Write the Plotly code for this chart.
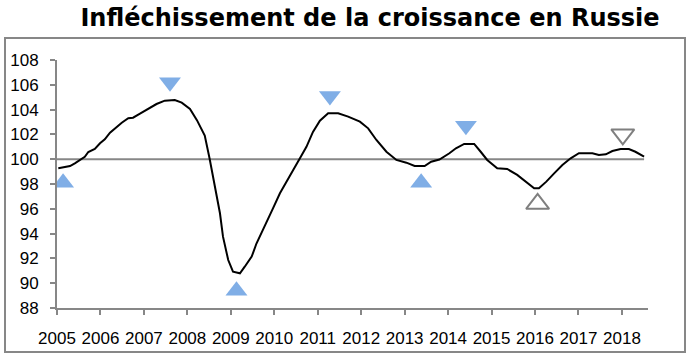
import plotly.graph_objects as go

# --- data ---
years = [2005.03, 2005.18, 2005.30, 2005.41, 2005.53, 2005.64, 2005.72, 2005.87, 2005.99,
         2006.10, 2006.22, 2006.37, 2006.49, 2006.64, 2006.75, 2006.90,
         2007.06, 2007.29, 2007.48, 2007.71, 2007.87,
         2008.06, 2008.22, 2008.40, 2008.51, 2008.63, 2008.75, 2008.82, 2008.94,
         2009.05, 2009.21, 2009.32, 2009.48, 2009.59, 2009.78, 2009.97,
         2010.13, 2010.32, 2010.59, 2010.74, 2010.89,
         2011.05, 2011.24, 2011.47, 2011.70, 2011.97,
         2012.16, 2012.35, 2012.58, 2012.81,
         2013.04, 2013.23, 2013.46, 2013.61, 2013.80,
         2014.03, 2014.18, 2014.37, 2014.60, 2014.75, 2014.90,
         2015.13, 2015.36, 2015.59, 2015.82, 2015.98,
         2016.09, 2016.26, 2016.44, 2016.63, 2016.82,
         2017.01, 2017.32, 2017.47, 2017.63, 2017.78, 2017.97,
         2018.16, 2018.31, 2018.51]
index_values = [99.27, 99.35, 99.45, 99.67, 99.94, 100.2, 100.58, 100.82, 101.28,
                101.6, 102.14, 102.62, 102.94, 103.3, 103.35, 103.65,
                103.97, 104.45, 104.72, 104.77, 104.56,
                104.05, 103.15, 101.9, 100.07, 97.78, 95.64, 93.75, 91.87,
                90.93, 90.8, 91.33, 92.14, 93.2, 94.56, 96.04,
                97.25, 98.46, 100.07, 101.0, 102.2,
                103.1, 103.7, 103.7, 103.43, 103.03,
                102.49, 101.55, 100.6, 99.94,
                99.72, 99.45, 99.45, 99.8, 99.97,
                100.48, 100.88, 101.23, 101.23, 100.6, 99.94,
                99.27, 99.21, 98.73, 98.06, 97.65,
                97.65, 98.19, 98.86, 99.53, 100.07,
                100.48, 100.48, 100.34, 100.39, 100.66, 100.82,
                100.82, 100.6, 100.2]

reference_level = 100

trough_years = [2005.14, 2009.13, 2013.38]
trough_values = [98.1, 89.4, 98.1]
peak_years = [2007.60, 2011.28, 2014.41]
peak_values = [106.2, 105.1, 102.7]
forecast_trough_years = [2016.06]
forecast_trough_values = [96.4]
forecast_peak_years = [2018.02]
forecast_peak_values = [102.0]

x_tick_years = list(range(2005, 2019))
x_tick_labels = [str(y) for y in x_tick_years]
y_ticks = list(range(88, 110, 2))

title_text = "Infléchissement de la croissance en Russie"

# --- layout geometry (pixels) ---
W, H = 690, 362
L, R, T, B = 57, 648, 60, 308
pw, ph = R - L, B - T

def px_to_paper_x(px):
    return (px - L) / pw

def px_to_paper_y(py):
    return (B - py) / ph

AXIS_GRAY = "#878787"
BLUE = "#80AEE6"
FONT = "Liberation Sans"

fig = go.Figure()

fig.add_trace(go.Scatter(
    x=[x_tick_years[0], years[-1]], y=[reference_level, reference_level],
    mode="lines", line=dict(color=AXIS_GRAY, width=2), hoverinfo="skip",
    showlegend=False))

fig.add_trace(go.Scatter(
    x=years, y=index_values, mode="lines",
    line=dict(color="black", width=2), showlegend=False))

fig.add_trace(go.Scatter(
    x=trough_years, y=trough_values, mode="markers",
    marker=dict(symbol="triangle-up", size=19, color=BLUE), showlegend=False))
fig.add_trace(go.Scatter(
    x=peak_years, y=peak_values, mode="markers",
    marker=dict(symbol="triangle-down", size=19, color=BLUE), showlegend=False))
fig.add_trace(go.Scatter(
    x=forecast_trough_years, y=forecast_trough_values, mode="markers",
    marker=dict(symbol="triangle-up-open", size=20, color="#7F7F7F",
                line=dict(width=2)), showlegend=False))
fig.add_trace(go.Scatter(
    x=forecast_peak_years, y=forecast_peak_values, mode="markers",
    marker=dict(symbol="triangle-down-open", size=20, color="#7F7F7F",
                line=dict(width=2)), showlegend=False))

# chart frame
fig.add_shape(type="rect", xref="paper", yref="paper",
              x0=px_to_paper_x(5), x1=px_to_paper_x(685),
              y0=px_to_paper_y(352), y1=px_to_paper_y(38),
              line=dict(color=AXIS_GRAY, width=2), fillcolor="rgba(0,0,0,0)",
              layer="below")

fig.update_layout(
    width=W, height=H,
    margin=dict(l=L, r=W - R, t=T, b=H - B, pad=0, autoexpand=False),
    paper_bgcolor="white", plot_bgcolor="white",
    title=dict(text=f"<b>{title_text}</b>", x=370 / W, xanchor="center",
               y=1 - 18 / H, yanchor="middle",
               font=dict(family="DejaVu Sans", size=24, color="black")),
    xaxis=dict(range=[2005, 2018.6], tickvals=x_tick_years, ticktext=x_tick_labels,
               showgrid=False, zeroline=False, showline=True, linecolor=AXIS_GRAY,
               linewidth=2, ticks="outside", ticklen=5, tickcolor=AXIS_GRAY,
               tickwidth=1.5, ticklabelstandoff=9, automargin=False,
               tickfont=dict(family=FONT, size=17, color="black")),
    yaxis=dict(range=[88, 108], tickvals=y_ticks, showgrid=False, zeroline=False,
               showline=True, linecolor=AXIS_GRAY, linewidth=2, ticks="outside",
               ticklen=5, tickcolor=AXIS_GRAY, tickwidth=1.5, ticklabelstandoff=8,
               automargin=False,
               tickfont=dict(family=FONT, size=17, color="black")),
)

fig.write_html("out.html", config={"displayModeBar": False},
               post_script="document.body.style.margin='0';document.body.style.overflow='hidden';")
